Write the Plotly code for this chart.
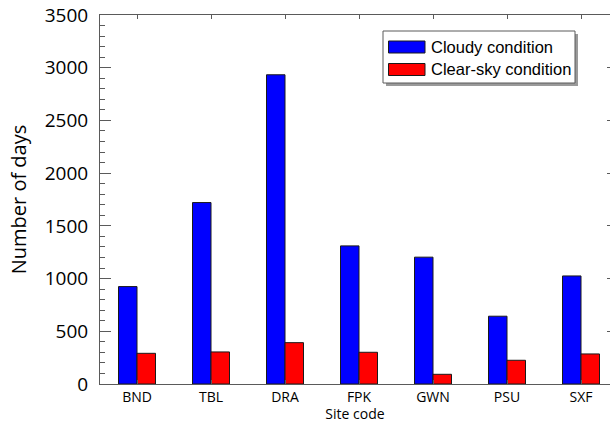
import plotly.graph_objects as go

# Site codes and day counts per sky condition
sites = ["BND", "TBL", "DRA", "FPK", "GWN", "PSU", "SXF"]
cloudy_days = [924, 1721, 2933, 1310, 1203, 643, 1025]
clear_days = [291, 304, 392, 301, 92, 225, 285]
series_names = ["Cloudy condition", "Clear-sky condition"]
series_colors = ["#0000FF", "#FF0000"]

W, H = 610, 423
M_L, M_R, M_T, M_B = 100, 0, 15, 39
PLOT_W = W - M_L - M_R
PLOT_H = H - M_T - M_B
CAT_PX = 74  # pixel pitch between neighbouring sites

AXIS_GREY = "#5a5a5a"
TICK_FONT = "Open Sans"

fig = go.Figure()
for name, vals, col in zip(series_names, [cloudy_days, clear_days], series_colors):
    fig.add_trace(go.Bar(
        x=sites, y=vals, name=name,
        marker=dict(color=col, line=dict(color="#1a1a1a", width=1)),
        showlegend=False,
    ))

# extra axis only for the right-hand tick stubs
fig.add_trace(go.Scatter(x=[sites[0]], y=[0], yaxis="y2", mode="markers",
                         marker=dict(opacity=0), showlegend=False, hoverinfo="skip"))

x_end = -0.5 + PLOT_W / CAT_PX

fig.update_layout(
    width=W, height=H,
    margin=dict(l=M_L, r=M_R, t=M_T, b=M_B, autoexpand=False),
    paper_bgcolor="white", plot_bgcolor="white",
    barmode="group", bargap=0.5, bargroupgap=0,
    xaxis=dict(
        type="category", range=[-0.5, x_end],
        showline=True, linecolor=AXIS_GREY, linewidth=1, mirror="ticks",
        ticks="inside", ticklen=4, tickcolor=AXIS_GREY,
        showgrid=False, zeroline=False,
        tickfont=dict(family=TICK_FONT, size=14, color="black"),
        title=dict(text="Site code", font=dict(family=TICK_FONT, size=14, color="black"), standoff=2),
        automargin=False,
    ),
    yaxis=dict(
        range=[0, 3500], dtick=500,
        showline=True, linecolor=AXIS_GREY, linewidth=1, mirror=False,
        ticks="inside", ticklen=11, tickcolor=AXIS_GREY,
        minor=dict(dtick=100, ticks="inside", ticklen=5, tickcolor=AXIS_GREY),
        showgrid=False, zeroline=False,
        tickfont=dict(family=TICK_FONT, size=19, color="black"),
        ticklabelstandoff=7,
        title=dict(text="Number of days", font=dict(family=TICK_FONT, size=20, color="black"), standoff=12),
        automargin=False,
    ),
    yaxis2=dict(
        overlaying="y", side="right", range=[0, 3500], dtick=500,
        showline=False, ticks="inside", ticklen=3, tickcolor=AXIS_GREY,
        showticklabels=False, showgrid=False, zeroline=False,
    ),
)


def px_x(px):
    return (px - M_L) / PLOT_W


def px_y(py):
    return (H - M_B - py) / PLOT_H


# legend box with drop shadow
box = dict(x0=383, x1=575, y0=31, y1=83)
fig.add_shape(type="rect", xref="paper", yref="paper",
              x0=px_x(box["x0"] + 3), x1=px_x(box["x1"] + 3),
              y0=px_y(box["y1"] + 3), y1=px_y(box["y0"] + 3),
              line=dict(width=0), fillcolor="#9a9a9a", layer="above")
fig.add_shape(type="rect", xref="paper", yref="paper",
              x0=px_x(box["x0"]), x1=px_x(box["x1"]),
              y0=px_y(box["y1"]), y1=px_y(box["y0"]),
              line=dict(color=AXIS_GREY, width=1), fillcolor="white", layer="above")

for i, (name, col) in enumerate(zip(series_names, series_colors)):
    yc = 47 + i * 22.5
    fig.add_shape(type="rect", xref="paper", yref="paper",
                  x0=px_x(388.5), x1=px_x(425), y0=px_y(yc + 6), y1=px_y(yc - 6),
                  line=dict(color="#1a1a1a", width=1), fillcolor=col, layer="above")
    fig.add_annotation(xref="paper", yref="paper", x=px_x(429), y=px_y(yc),
                       xanchor="left", yanchor="middle", showarrow=False,
                       text=name, font=dict(family="Liberation Sans", size=16.5, color="black"))

fig.write_html("out.html")
